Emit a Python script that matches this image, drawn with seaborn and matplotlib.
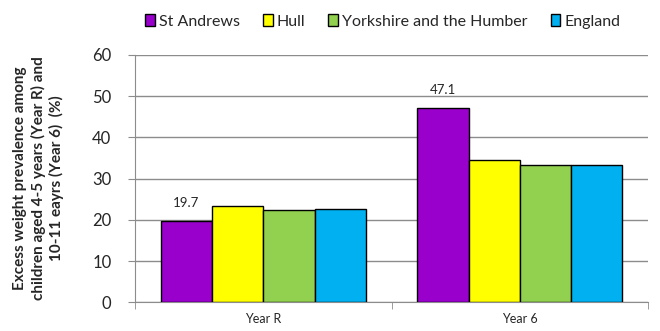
import pandas as pd
import matplotlib
matplotlib.use("Agg")
import matplotlib.pyplot as plt
import seaborn as sns

years = ["Year R", "Year 6"]
areas = ["St Andrews", "Hull", "Yorkshire and the Humber", "England"]
st_andrews = [19.7, 47.1]
hull = [23.4, 34.4]
yorkshire = [22.3, 33.4]
england = [22.7, 33.4]
colors = ["#9900cc", "#ffff00", "#92d050", "#00b0f0"]

rows = []
for area, vals in zip(areas, [st_andrews, hull, yorkshire, england]):
    for yr, v in zip(years, vals):
        rows.append({"year": yr, "area": area, "value": v})
df = pd.DataFrame(rows)

sns.set_style("white")
plt.rcParams['font.family'] = ['Lato', 'DejaVu Sans']

fig = plt.figure(figsize=(6.6, 3.31), dpi=100)
ax = fig.add_axes([0.2045, 0.0867, 0.7775, 0.7473])

sns.barplot(data=df, x="year", y="value", hue="area", order=years,
            hue_order=areas, palette=colors, saturation=1, edgecolor="black",
            linewidth=1, width=0.8, errorbar=None, ax=ax, zorder=3,
            legend=False)

# data labels only on St Andrews bars
for patch in ax.containers[0]:
    h = patch.get_height()
    ax.text(patch.get_x() + patch.get_width() / 2, h + 3, f"{h:.1f}",
            ha="center", va="bottom", fontsize=9.5)

ax.set_ylim(0, 60)
ax.set_xlim(-0.5, 1.5)
ax.set_yticks(range(0, 61, 10))
ax.yaxis.grid(True, color="#8c8c8c", linewidth=1)
ax.set_axisbelow(True)
for side in ["top", "right"]:
    ax.spines[side].set_visible(False)
for side in ["left", "bottom"]:
    ax.spines[side].set_color("#8c8c8c")

ax.tick_params(axis="y", labelsize=12, length=5, color="#8c8c8c", direction="out", left=True, pad=12)
ax.tick_params(axis="x", labelsize=9, length=0, pad=8)
ax.set_xticks([-0.5, 0.5, 1.5], minor=True)
ax.tick_params(axis="x", which="minor", length=5, color="#8c8c8c", direction="out", bottom=True)

ax.set_xlabel("")
ax.set_ylabel("Excess weight prevalence among\nchildren aged 4-5 years (Year R) and\n10-11 eayrs (Year 6)  (%)",
              fontsize=11, fontweight="bold", labelpad=20, linespacing=1.3)

handles = [plt.Rectangle((0, 0), 1, 1, facecolor=c, edgecolor="black", linewidth=1) for c in colors]
fig.legend(handles, areas, loc="center", bbox_to_anchor=(0.58, 0.935), ncol=4,
           frameon=False, fontsize=11.5, handlelength=0.6, handleheight=0.7,
           handletextpad=0.25, columnspacing=1.45)

fig.savefig("out.png", dpi=100)
